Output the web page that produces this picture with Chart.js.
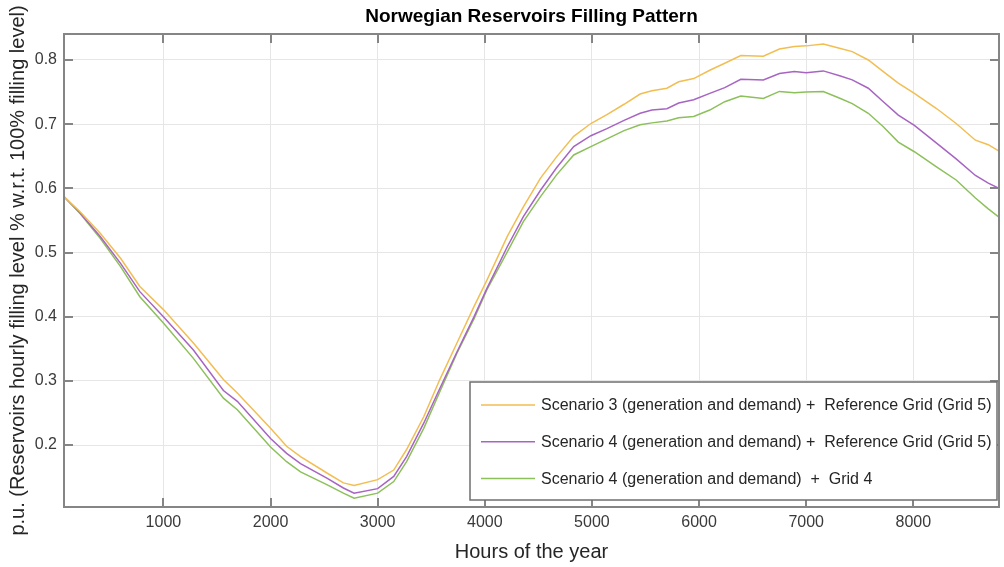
<!DOCTYPE html>
<html>
<head>
<meta charset="utf-8">
<script src="https://cdn.jsdelivr.net/npm/chart.js@4.4.1/dist/chart.umd.min.js"></script>
<style>
  html, body { margin: 0; padding: 0; background: #fff; }
  #wrap { width: 1004px; height: 567px; }
</style>
</head>
<body>
<div id="wrap"><canvas id="graph" width="1004" height="567"></canvas></div>
<script>
// hours of the year where the curves were read
const hours = [72, 220, 410, 600, 780, 1000, 1280, 1560, 1690, 2000, 2150, 2280, 2530, 2680, 2780,
  3000, 3150, 3270, 3430, 3580, 3740, 3900, 4020, 4210, 4360, 4520, 4670, 4830, 4990, 5140,
  5300, 5450, 5560, 5700, 5810, 5950, 6100, 6240, 6390, 6600, 6750, 6890, 7000, 7160, 7320,
  7430, 7580, 7720, 7860, 8010, 8220, 8400, 8580, 8700, 8800];

const scen3RefGrid = [0.587, 0.564, 0.530, 0.491, 0.447, 0.411, 0.359, 0.302, 0.281, 0.226, 0.198, 0.182, 0.156, 0.141, 0.137,
  0.146, 0.161, 0.193, 0.244, 0.302, 0.359, 0.416, 0.457, 0.525, 0.571, 0.616, 0.649, 0.681, 0.701, 0.715,
  0.731, 0.747, 0.752, 0.756, 0.766, 0.771, 0.784, 0.795, 0.807, 0.806, 0.817, 0.821, 0.822, 0.825, 0.818,
  0.813, 0.800, 0.782, 0.764, 0.748, 0.724, 0.701, 0.675, 0.668, 0.658];

const scen4RefGrid = [0.587, 0.562, 0.525, 0.483, 0.439, 0.400, 0.348, 0.285, 0.268, 0.210, 0.187, 0.171, 0.148, 0.133, 0.125,
  0.132, 0.151, 0.182, 0.234, 0.288, 0.345, 0.400, 0.444, 0.509, 0.556, 0.597, 0.632, 0.665, 0.682, 0.693,
  0.706, 0.717, 0.722, 0.724, 0.733, 0.738, 0.748, 0.757, 0.770, 0.769, 0.779, 0.782, 0.780, 0.783, 0.775,
  0.769, 0.756, 0.735, 0.714, 0.698, 0.670, 0.646, 0.620, 0.608, 0.600];

const scen4Grid4 = [0.587, 0.561, 0.522, 0.478, 0.431, 0.390, 0.335, 0.273, 0.255, 0.197, 0.174, 0.158, 0.138, 0.125, 0.117,
  0.125, 0.143, 0.174, 0.226, 0.283, 0.343, 0.397, 0.442, 0.501, 0.548, 0.587, 0.621, 0.652, 0.665, 0.677,
  0.690, 0.699, 0.702, 0.705, 0.710, 0.712, 0.722, 0.735, 0.744, 0.740, 0.751, 0.749, 0.750, 0.751, 0.740,
  0.732, 0.717, 0.696, 0.672, 0.657, 0.633, 0.613, 0.585, 0.568, 0.555];

const seriesLabels = [
  'Scenario 3 (generation and demand) +  Reference Grid (Grid 5)',
  'Scenario 4 (generation and demand) +  Reference Grid (Grid 5)',
  'Scenario 4 (generation and demand)  +  Grid 4'
];
const seriesColors = ['#F2BE52', '#A764C2', '#8CC05A'];

const xTickValues = [1000, 2000, 3000, 4000, 5000, 6000, 7000, 8000];
const yTickValues = [0.2, 0.3, 0.4, 0.5, 0.6, 0.7, 0.8];

const titleText = 'Norwegian Reservoirs Filling Pattern';
const FONT = '"Liberation Sans", Arial, Helvetica, sans-serif';

function toPoints(values) {
  return hours.map((h, i) => ({ x: h, y: values[i] }));
}

// title, axis box, inward tick marks and the legend box (MATLAB look)
const framePlugin = {
  id: 'frame',
  afterDatasetsDraw(chart) {
    const { ctx, chartArea: a, scales: { x, y } } = chart;
    ctx.save();

    ctx.strokeStyle = '#858585';
    ctx.lineWidth = 2;
    ctx.strokeRect(a.left, a.top, a.right - a.left, a.bottom - a.top);
    ctx.beginPath();
    x.ticks.forEach(t => {
      const px = Math.round(x.getPixelForValue(t.value));
      ctx.moveTo(px, a.bottom); ctx.lineTo(px, a.bottom - 9);
      ctx.moveTo(px, a.top); ctx.lineTo(px, a.top + 9);
    });
    y.ticks.forEach(t => {
      const py = Math.round(y.getPixelForValue(t.value));
      ctx.moveTo(a.left, py); ctx.lineTo(a.left + 9, py);
      ctx.moveTo(a.right, py); ctx.lineTo(a.right - 9, py);
    });
    ctx.stroke();

    // title
    ctx.fillStyle = '#000';
    ctx.font = 'bold 19px ' + FONT;
    ctx.textAlign = 'center';
    ctx.textBaseline = 'middle';
    ctx.fillText(titleText, (a.left + a.right) / 2, 17);

    // legend
    const bx = 470, by = 382, bw = a.right - 2 - bx, bh = 118;
    ctx.fillStyle = '#fff';
    ctx.fillRect(bx, by, bw, bh);
    ctx.strokeStyle = '#6f6f6f';
    ctx.lineWidth = 1.5;
    ctx.strokeRect(bx, by, bw, bh);
    ctx.font = '16px ' + FONT;
    ctx.textAlign = 'left';
    chart.data.datasets.forEach((ds, i) => {
      const ly = by + 23 + i * 36.7;
      ctx.strokeStyle = ds.borderColor;
      ctx.lineWidth = 1.5;
      ctx.beginPath();
      ctx.moveTo(481, ly); ctx.lineTo(535, ly);
      ctx.stroke();
      ctx.fillStyle = '#262626';
      ctx.fillText(ds.label, 541, ly + 1);
    });
    ctx.restore();
  }
};

const graph = document.getElementById('graph').getContext('2d');
let myChart = new Chart(graph, {
  type: 'line',
  data: {
    datasets: seriesLabels.map((label, i) => ({
      label: label,
      data: toPoints([scen3RefGrid, scen4RefGrid, scen4Grid4][i]),
      borderColor: seriesColors[i],
      borderWidth: 1.5,
      pointRadius: 0,
      tension: 0,
      fill: false
    }))
  },
  options: {
    responsive: false,
    devicePixelRatio: 1,
    animation: false,
    layout: { padding: { top: 34, right: 5, left: 0, bottom: 0 } },
    plugins: {
      legend: { display: false },
      tooltip: { enabled: false },
      title: { display: false }
    },
    scales: {
      x: {
        type: 'linear',
        min: 72,
        max: 8800,
        afterBuildTicks: s => { s.ticks = xTickValues.map(v => ({ value: v })); },
        afterFit: s => { s.height = 60; },
        grid: { color: '#e6e6e6', lineWidth: 1, drawTicks: false },
        border: { display: false },
        ticks: {
          padding: 6,
          color: '#3a3a3a',
          font: { family: FONT, size: 16 },
          maxRotation: 0,
          callback: v => String(v)
        },
        title: {
          display: true,
          text: 'Hours of the year',
          color: '#262626',
          font: { family: FONT, size: 20 },
          padding: { top: 0, bottom: 3 }
        }
      },
      y: {
        min: 0.1034,
        max: 0.8405,
        afterBuildTicks: s => { s.ticks = yTickValues.map(v => ({ value: v })); },
        afterFit: s => { s.width = 64; },
        grid: { color: '#e6e6e6', lineWidth: 1, drawTicks: false },
        border: { display: false },
        ticks: {
          padding: 7,
          color: '#3a3a3a',
          font: { family: FONT, size: 16 },
          callback: v => v.toFixed(1)
        },
        title: {
          display: true,
          text: 'p.u. (Reservoirs hourly filling level % w.r.t. 100% filling level)',
          color: '#262626',
          font: { family: FONT, size: 20 },
          padding: { top: 6, bottom: 0 }
        }
      }
    }
  },
  plugins: [framePlugin]
});
</script>
</body>
</html>
